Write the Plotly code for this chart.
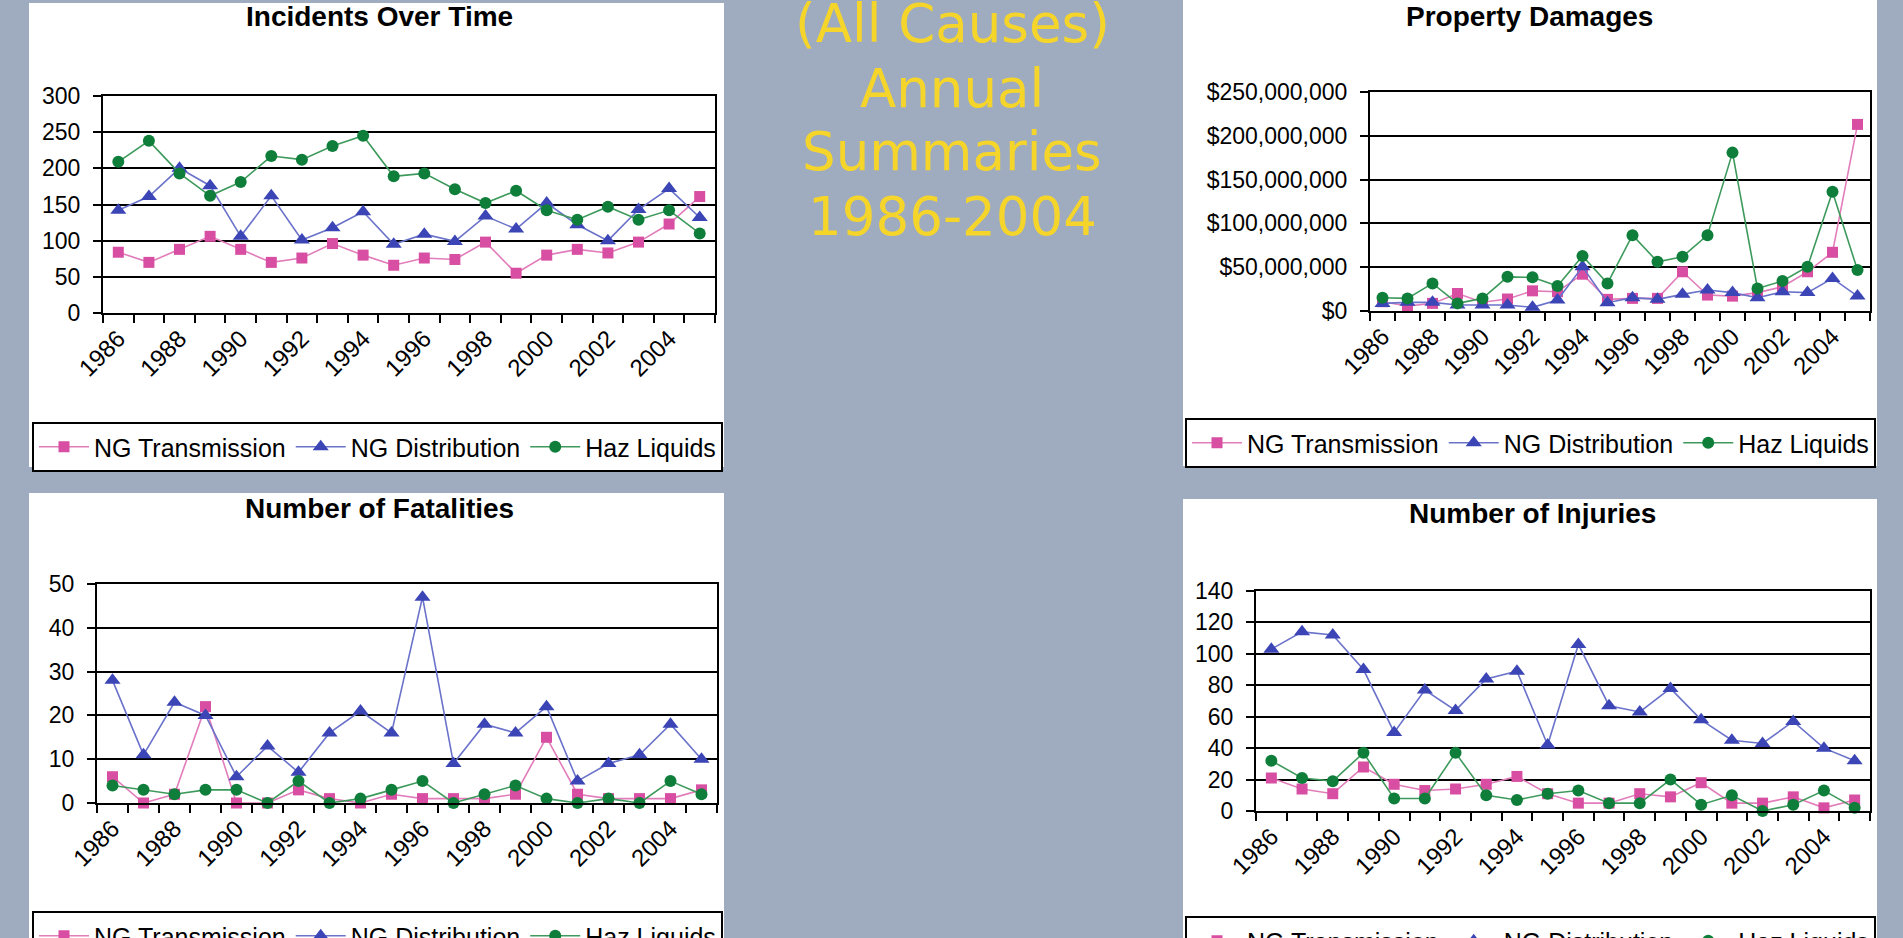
import plotly.graph_objects as go

W, H = 1903, 938

# ---------------- data ----------------
years = list(range(1986, 2006))
tick_years = list(range(1986, 2005, 2))
tick_labels = [str(y) for y in tick_years]
series_names = ["NG Transmission", "NG Distribution", "Haz Liquids"]

incidents_ngt = [84, 70, 88, 106, 88, 70, 76, 96, 80, 66, 76, 74, 98, 55, 80, 88, 83, 98, 123, 161]
incidents_ngd = [142, 161, 200, 176, 106, 162, 101, 118, 140, 95, 109, 99, 134, 116, 152, 122, 100, 143, 172, 132]
incidents_haz = [209, 238, 193, 162, 181, 217, 212, 231, 245, 189, 193, 171, 152, 169, 142, 129, 147, 129, 142, 110]

damages_ngt = [10600000, 5700000, 8700000, 20000000, 10000000, 13700000, 23000000, 22000000, 42000000, 13300000,
               14400000, 14400000, 44800000, 18200000, 17000000, 21000000, 27700000, 44800000, 67000000, 213000000]
damages_ngd = [8700000, 9900000, 9900000, 6800000, 6800000, 6800000, 4200000, 12500000, 50500000, 9500000,
               15200000, 13300000, 19000000, 24000000, 21000000, 15200000, 22000000, 21000000, 37200000, 17000000]
damages_haz = [15200000, 14400000, 31500000, 8700000, 14400000, 39000000, 38400000, 28500000, 62700000, 31500000,
               86600000, 56200000, 62000000, 86600000, 180800000, 25800000, 34200000, 50500000, 136000000, 46700000]

fatal_ngt = [6, 0, 2, 22, 0, 0, 3, 1, 0, 2, 1, 1, 1, 2, 15, 2, 1, 1, 1, 3]
fatal_ngd = [28, 11, 23, 20, 6, 13, 7, 16, 21, 16, 47, 9, 18, 16, 22, 5, 9, 11, 18, 10]
fatal_haz = [4, 3, 2, 3, 3, 0, 5, 0, 1, 3, 5, 0, 2, 4, 1, 0, 1, 0, 5, 2]

injury_ngt = [21, 14, 11, 28, 17, 13, 14, 17, 22, 11, 5, 5, 11, 9, 18, 5, 5, 9, 2, 7]
injury_ngd = [103, 114, 112, 90, 50, 77, 64, 84, 89, 42, 106, 67, 63, 78, 58, 45, 43, 57, 40, 32]
injury_haz = [32, 21, 19, 37, 8, 8, 37, 10, 7, 11, 13, 5, 5, 20, 4, 10, 0, 4, 13, 2]

chart_titles = ["Incidents Over Time", "Property Damages", "Number of Fatalities", "Number of Injuries"]
center_lines = ["(All Causes)", "Annual", "Summaries", "1986-2004"]

# ---------------- styles ----------------
BG = "#9FACC0"
FONT = "Liberation Sans, Arial, sans-serif"
styles = [
    dict(line="#E27DBB", marker="#D84EA2", symbol="square", size=11),
    dict(line="#6A72CA", marker="#3B45B5", symbol="triangle-up", size=14),
    dict(line="#3E9A5C", marker="#0E7E3A", symbol="circle", size=12),
]


def px(x):
    return x / W


def py(y):
    return 1 - y / H


# chart geometry in pixels: plot area (left, right, top, bottom), panel, legend anchor, title center
charts = [
    dict(plot=(103, 715, 96, 313), panel=(29, 724, 3, 467), legend=(32, 422), title=(379, 17),
         data=[incidents_ngt, incidents_ngd, incidents_haz], yrange=[0, 300], dtick=50, fmt=None),
    dict(plot=(1370, 1870, 92, 311), panel=(1183, 1877, 0, 466), legend=(1185, 418), title=(1529, 17),
         data=[damages_ngt, damages_ngd, damages_haz], yrange=[0, 250000000], dtick=50000000, fmt="$,.0f"),
    dict(plot=(97, 717, 584, 803), panel=(29, 724, 493, 940), legend=(32, 911), title=(379, 509),
         data=[fatal_ngt, fatal_ngd, fatal_haz], yrange=[0, 50], dtick=10, fmt=None),
    dict(plot=(1256, 1870, 591, 811), panel=(1183, 1877, 499, 940), legend=(1185, 916), title=(1532, 513),
         data=[injury_ngt, injury_ngd, injury_haz], yrange=[0, 140], dtick=20, fmt=None),
]

fig = go.Figure()
layout = dict(
    width=W, height=H, margin=dict(l=0, r=0, t=0, b=0, autoexpand=False),
    paper_bgcolor=BG, plot_bgcolor="rgba(0,0,0,0)", showlegend=True,
    shapes=[], annotations=[],
)

boundaries = [y - 0.5 for y in years] + [years[-1] + 0.5]

for i, c in enumerate(charts):
    sfx = "" if i == 0 else str(i + 1)
    lg = "legend" + sfx
    L, R, T, B = c["plot"]
    for name, vals, st in zip(series_names, c["data"], styles):
        fig.add_trace(go.Scatter(
            x=years, y=vals, name=name, mode="lines+markers",
            xaxis="x" + sfx, yaxis="y" + sfx, legend=lg,
            line=dict(color=st["line"], width=1.6),
            marker=dict(color=st["marker"], symbol=st["symbol"], size=st["size"], line=dict(width=0)),
            cliponaxis=False,
        ))
    layout["xaxis" + sfx] = dict(
        domain=[px(L), px(R)], anchor="y" + sfx, range=[1985.5, 2005.5],
        tickmode="array", tickvals=tick_years, ticktext=tick_labels, tickangle=-45,
        ticks="", showgrid=False, zeroline=False, showline=True, linecolor="black", linewidth=2,
        mirror=True, tickfont=dict(family=FONT, size=24, color="black"),
        minor=dict(tickmode="array", tickvals=boundaries, ticks="outside", ticklen=8,
                   tickwidth=2, tickcolor="black", showgrid=False),
        fixedrange=True,
    )
    ya = dict(
        domain=[py(B), py(T)], anchor="x" + sfx, range=c["yrange"], tickmode="linear", tick0=0,
        dtick=c["dtick"], ticks="outside", ticklen=8, tickwidth=2, tickcolor="black",
        showgrid=True, gridcolor="black", gridwidth=2, zeroline=False,
        showline=True, linecolor="black", linewidth=2, mirror=True,
        tickfont=dict(family=FONT, size=23, color="black"), ticklabelstandoff=8, fixedrange=True,
    )
    if c["fmt"]:
        ya["tickformat"] = c["fmt"]
    layout["yaxis" + sfx] = ya
    pl, pr, pt, pb = c["panel"]
    layout["shapes"].append(dict(type="rect", xref="paper", yref="paper", x0=px(pl), x1=px(pr),
                                 y0=py(pb), y1=py(pt), fillcolor="white", line=dict(width=0),
                                 layer="below"))
    lx, ly = c["legend"]
    layout[lg] = dict(
        orientation="h", x=px(lx), y=py(ly), xanchor="left", yanchor="top",
        bgcolor="white", bordercolor="black", borderwidth=2,
        font=dict(family=FONT, size=25, color="black"), itemwidth=50,
        itemclick=False, itemdoubleclick=False,
    )
    tx, ty = c["title"]
    layout["annotations"].append(dict(
        text="<b>" + chart_titles[i] + "</b>", xref="paper", yref="paper", x=px(tx), y=py(ty),
        xanchor="center", yanchor="middle", showarrow=False,
        font=dict(family=FONT, size=28, color="black"),
    ))

for k, line in enumerate(center_lines):
    layout["annotations"].append(dict(
        text=line, xref="paper", yref="paper", x=px(952), y=py(24 + 64 * k),
        xanchor="center", yanchor="middle", showarrow=False,
        font=dict(family="DejaVu Sans, Verdana, sans-serif", size=53, color="#F6D52A"),
    ))

fig.update_layout(**layout)
fig.write_html("out.html", config={"displayModeBar": False},
               post_script="document.body.style.margin='0';document.body.style.overflow='hidden';")
